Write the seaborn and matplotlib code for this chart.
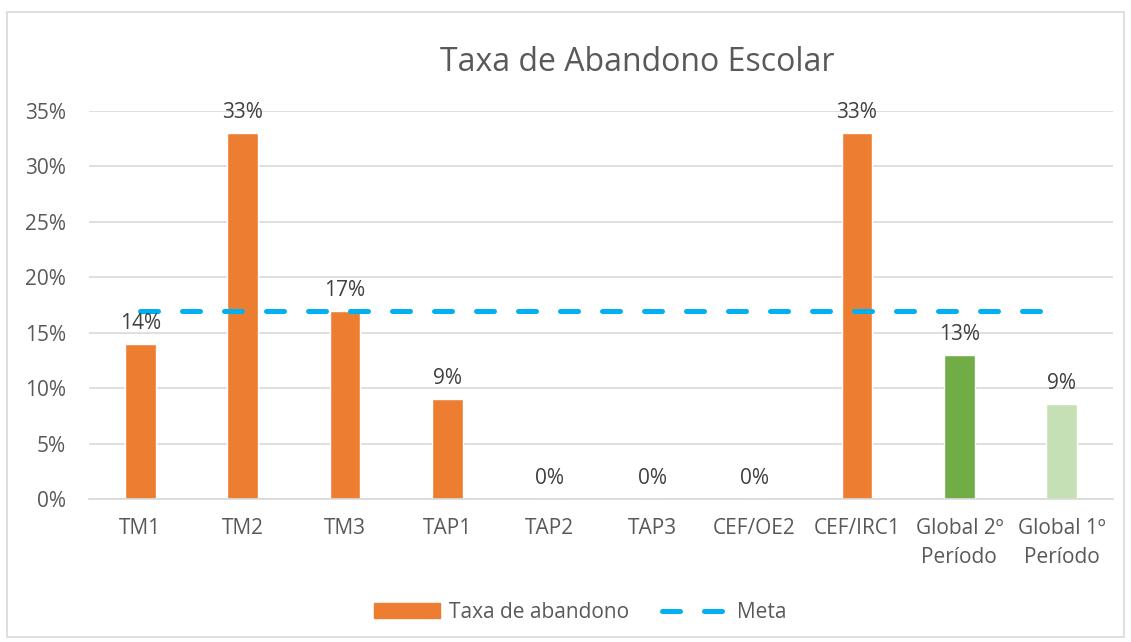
import matplotlib
matplotlib.use("Agg")
import matplotlib.pyplot as plt
import matplotlib.patches as mpatches
from matplotlib.lines import Line2D
from matplotlib.ticker import PercentFormatter
import seaborn as sns

# data
categories = ["TM1", "TM2", "TM3", "TAP1", "TAP2", "TAP3", "CEF/OE2", "CEF/IRC1",
              "Global 2º\nPeríodo", "Global 1º\nPeríodo"]
taxa = [0.14, 0.33, 0.17, 0.09, 0.0, 0.0, 0.0, 0.33, 0.13, 0.086]
meta = [0.17] * len(categories)
bar_colors = ["#ED7D31"] * 8 + ["#70AD47", "#C5E0B4"]

sns.set_theme(style="white")
plt.rcParams["font.family"] = ["Open Sans", "DejaVu Sans"]

meta_dash = (0, (3.6, 4.8))

fig = plt.figure(figsize=(11.31, 6.42), dpi=100)
ax = fig.add_axes([0.0787, 0.2227, 0.9053, 0.6044])

sns.barplot(x=categories, y=taxa, hue=categories, palette=bar_colors,
            legend=False, width=0.3, ax=ax, saturation=1)
sns.lineplot(x=categories, y=meta, ax=ax, color="#00B0F0", linewidth=3.6,
             sort=False, dashes=False, linestyle=meta_dash,
             dash_capstyle="round")

for i, v in enumerate(taxa):
    ax.text(i, v + 0.009, f"{v:.0%}", ha="center", va="bottom",
            fontsize=15, color="#404040")

ax.set_xlim(-0.5, len(categories) - 0.5)
ax.set_ylim(0, 0.35)
ax.set_yticks([i * 0.05 for i in range(8)])
ax.yaxis.set_major_formatter(PercentFormatter(1.0, decimals=0))
ax.grid(axis="y", color="#D9D9D9", linewidth=1.2)
ax.set_axisbelow(True)
for s in ["top", "right", "left"]:
    ax.spines[s].set_visible(False)
ax.spines["bottom"].set_color("#D9D9D9")
ax.spines["bottom"].set_linewidth(1.2)
ax.tick_params(axis="both", length=0, labelsize=15, labelcolor="#595959")
ax.tick_params(axis="x", pad=14)
ax.tick_params(axis="y", pad=16.5)
plt.setp(ax.get_xticklabels(), linespacing=1.5)
ax.set_xlabel("")
ax.set_ylabel("")

fig.text(0.5633, 0.903, "Taxa de Abandono Escolar", ha="center", va="center",
         fontsize=23, color="#595959")

handles = [mpatches.Patch(color="#ED7D31", label="Taxa de abandono"),
           Line2D([0], [0], color="#00B0F0", lw=3.6, linestyle=meta_dash,
                  dash_capstyle="round", label="Meta")]
fig.legend(handles=handles, loc="center", bbox_to_anchor=(0.513, 0.046), ncol=2,
           frameon=False, fontsize=15, labelcolor="#595959",
           handlelength=3.2, handletextpad=0.4, columnspacing=1.6,
           handleheight=0.7)

fig.patches.append(mpatches.Rectangle((7 / 1131, 5 / 642), 1117 / 1131, 625 / 642,
                                      transform=fig.transFigure, fill=False,
                                      edgecolor="#D9D9D9", linewidth=1.2))

fig.savefig("out.png", dpi=100)
